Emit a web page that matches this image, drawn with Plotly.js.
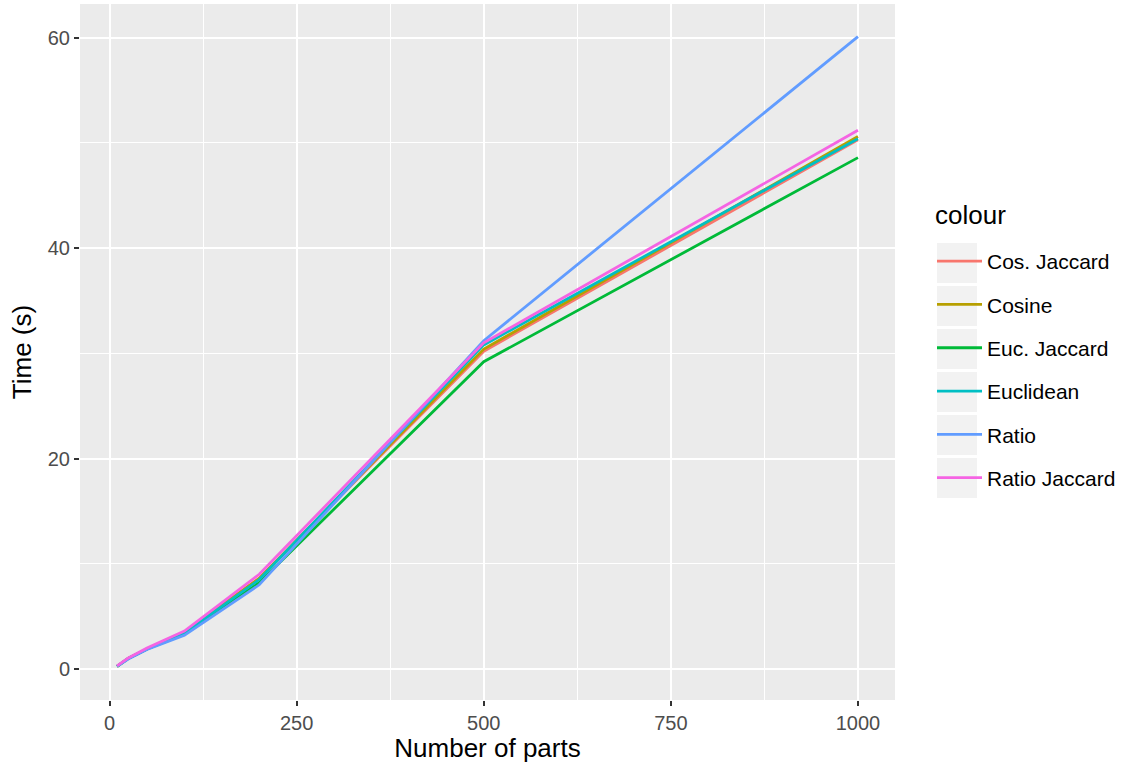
<!DOCTYPE html>
<html>
<head>
<meta charset="utf-8">
<script src="https://cdn.plot.ly/plotly-3.0.1.min.js"></script>
<style>html,body{margin:0;padding:0;background:#fff;}#chart{width:1130px;height:763px;}</style>
</head>
<body>
<div id="chart"></div>
<script>
// ---- data ----
const parts = [10, 25, 50, 100, 200, 500, 1000];
const seriesNames = ["Cos. Jaccard", "Cosine", "Euc. Jaccard", "Euclidean", "Ratio", "Ratio Jaccard"];
const cosJaccard   = [0.25, 1.0, 1.9, 3.5, 8.6, 30.2, 50.3];
const cosine       = [0.25, 1.0, 1.9, 3.5, 8.6, 30.4, 50.6];
const eucJaccard   = [0.25, 1.0, 1.9, 3.3, 8.2, 29.2, 48.6];
const euclidean    = [0.25, 1.0, 1.9, 3.4, 8.5, 30.8, 50.4];
const ratio        = [0.25, 0.95, 1.85, 3.2, 8.0, 31.2, 60.1];
const ratioJaccard = [0.3, 1.05, 2.0, 3.6, 9.0, 31.0, 51.2];
const seriesValues = [cosJaccard, cosine, eucJaccard, euclidean, ratio, ratioJaccard];
const colors = ["#F8766D", "#B79F00", "#00BA38", "#00BFC4", "#619CFF", "#F564E3"];
const xTicks = [0, 250, 500, 750, 1000];
const yTicks = [0, 20, 40, 60];
const legendTitle = "colour";

const traces = seriesNames.map((n, i) => ({
  x: parts, y: seriesValues[i], name: n, type: "scatter", mode: "lines",
  line: {color: colors[i], width: 2.8},
  legendgroup: "g" + i
}));

// legend key background boxes (pixel -> paper)
const W = 815, H = 696, L = 80, B = 700;
const shapes = [];
for (let i = 0; i < seriesNames.length; i++) {
  const top = 243 + 43 * i, bot = top + 40;
  shapes.push({type: "rect", xref: "paper", yref: "paper",
    x0: (937 - L) / W, x1: (977 - L) / W, y0: (B - bot) / H, y1: (B - top) / H,
    fillcolor: "#F2F2F2", line: {width: 0}, layer: "below"});
}

const layout = {
  width: 1130, height: 763,
  margin: {l: 80, r: 235, t: 4, b: 63},
  paper_bgcolor: "#FFFFFF", plot_bgcolor: "#EBEBEB",
  font: {family: "Liberation Sans, Arial, sans-serif", color: "#000"},
  showlegend: true,
  xaxis: {
    range: [-39.5, 1049.5], tickvals: xTicks, ticktext: xTicks.map(String),
    showgrid: true, gridcolor: "#FFFFFF", gridwidth: 1.6, zeroline: false,
    ticks: "outside", ticklen: 5, tickwidth: 1.5, tickcolor: "#333333",
    tickfont: {size: 20, color: "#4D4D4D"},
    minor: {dtick: 125, tick0: 0, showgrid: true, gridcolor: "#FFFFFF", gridwidth: 0.8},
    title: {text: "Number of parts", font: {size: 26, color: "#000"}, standoff: 6},
    showline: false
  },
  yaxis: {
    range: [-2.95, 63.2], tickvals: yTicks, ticktext: yTicks.map(String),
    showgrid: true, gridcolor: "#FFFFFF", gridwidth: 1.6, zeroline: false,
    ticks: "outside", ticklen: 5, tickwidth: 1.5, tickcolor: "#333333",
    tickfont: {size: 20, color: "#4D4D4D"},
    minor: {dtick: 10, tick0: 0, showgrid: true, gridcolor: "#FFFFFF", gridwidth: 0.8},
    title: {text: "Time (s)", font: {size: 26, color: "#000"}, standoff: 8},
    showline: false
  },
  legend: {
    x: (932 - L) / W, xanchor: "left", y: (B - 241) / H, yanchor: "top",
    font: {size: 21, color: "#000"},
    bgcolor: "rgba(0,0,0,0)", tracegroupgap: 13, itemwidth: 45,
    traceorder: "grouped"
  },
  annotations: [{
    text: legendTitle, xref: "paper", yref: "paper",
    x: (933 - L) / W, xanchor: "left", y: (B - 215) / H, yanchor: "middle",
    showarrow: false, font: {size: 26, color: "#000"}
  }],
  shapes: shapes
};

Plotly.newPlot("chart", traces, layout, {displayModeBar: false, responsive: false});
</script>
</body>
</html>
